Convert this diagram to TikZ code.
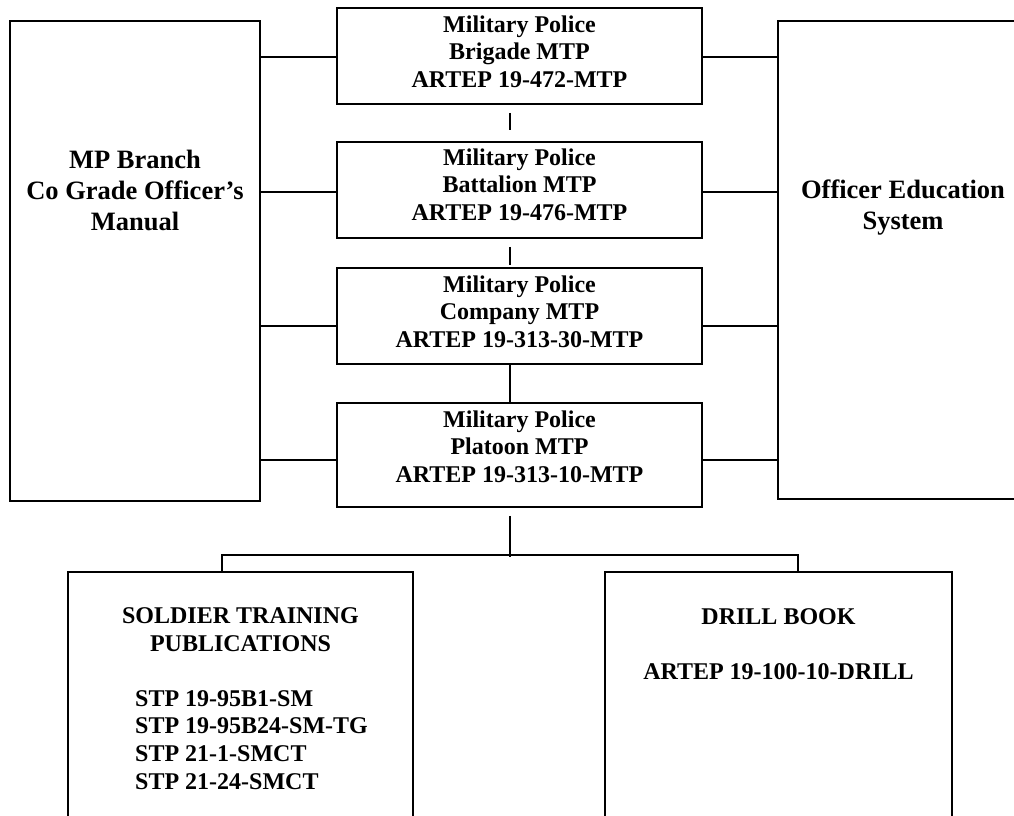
\documentclass[tikz,border=0pt]{standalone}
\usepackage{fontspec}
\setmainfont{Liberation Serif}

\begin{document}
\begin{tikzpicture}[x=1pt, y=-1pt,
    frame/.style={draw, line width=1.7pt, inner sep=0pt},
    bigtxt/.style={font=\fontsize{26.5}{31}\selectfont\bfseries, align=center, inner sep=0pt},
    midtxt/.style={font=\fontsize{24}{27.7}\selectfont\bfseries, align=center, inner sep=0pt},
    link/.style={line width=1.4pt}]
        \useasboundingbox (0,0) rectangle (1014,816);
        \clip (0,0) rectangle (1014,816);

        % Draw the side boxes
        \node[frame, minimum width=250pt, minimum height=480pt] (manual) at (135,261) {};
        \node[frame, minimum width=250pt, minimum height=478pt] (oes) at (903,260) {};

        % Draw the MTP boxes
        \node[frame, minimum width=365pt, minimum height=96pt] (bde) at (519.5,56) {};
        \node[frame, minimum width=365pt, minimum height=96pt] (bn) at (519.5,190) {};
        \node[frame, minimum width=365pt, minimum height=96pt] (coy) at (519.5,316) {};
        \node[frame, minimum width=365pt, minimum height=104pt] (plt) at (519.5,455) {};

        % Draw the bottom boxes
        \node[frame, minimum width=345pt, minimum height=328pt] (stp) at (240.5,736) {};
        \node[frame, minimum width=347pt, minimum height=328pt] (drill) at (778.5,736) {};

        % Add annotations
        \node[bigtxt] (manualtxt) at (135,190) {MP Branch\\Co Grade Officer's\\Manual};
        \node[bigtxt] (oestxt) at (903,208) {Officer Education\\System};
        \node[midtxt] (bdetxt) at (519.5,51.7) {Military Police\\Brigade MTP\\ARTEP 19-472-MTP};
        \node[midtxt] (bntxt) at (519.5,184.7) {Military Police\\Battalion MTP\\ARTEP 19-476-MTP};
        \node[midtxt] (coytxt) at (519.5,311.7) {Military Police\\Company MTP\\ARTEP 19-313-30-MTP};
        \node[midtxt] (plttxt) at (519.5,446.7) {Military Police\\Platoon MTP\\ARTEP 19-313-10-MTP};
        \node[midtxt] (stptitle) at (240.5,629.5) {SOLDIER TRAINING\\PUBLICATIONS};
        \node[midtxt, align=left, anchor=north west] (stplist) at (135,690)
            {STP 19-95B1-SM\\STP 19-95B24-SM-TG\\STP 21-1-SMCT\\STP 21-24-SMCT};
        \node[midtxt, anchor=base] (drilltitle) at (778.5,624) {DRILL BOOK};
        \node[midtxt, anchor=base] (drillno) at (778.5,679) {ARTEP 19-100-10-DRILL};

        % Side connectors
        \foreach \b/\y in {bde/57, bn/192, coy/326, plt/460} {
            \draw[link] (manual.east |- 0,\y) -- (\b.west |- 0,\y);
            \draw[link] (\b.east |- 0,\y) -- (oes.west |- 0,\y);
        }

        % Connectors down the middle
        \draw[link] ([xshift=-9.5pt, yshift=-8pt]bde.south) -- ([xshift=-9.5pt, yshift=11pt]bn.north);
        \draw[link] ([xshift=-9.5pt, yshift=-8pt]bn.south) -- ([xshift=-9.5pt, yshift=2pt]coy.north);
        \draw[link] ([xshift=-9.5pt]coy.south) -- ([xshift=-9.5pt]plt.north);
        \coordinate (fork) at ([xshift=-9.5pt]plt.south |- 0,557);
        \draw[link] ([xshift=-9.5pt, yshift=-8pt]plt.south) -- (fork);
        \draw[link] ([xshift=-18.5pt]stp.north) -- ++(0,-16) -| ([xshift=19.5pt]drill.north);
    \end{tikzpicture}
\end{document}
